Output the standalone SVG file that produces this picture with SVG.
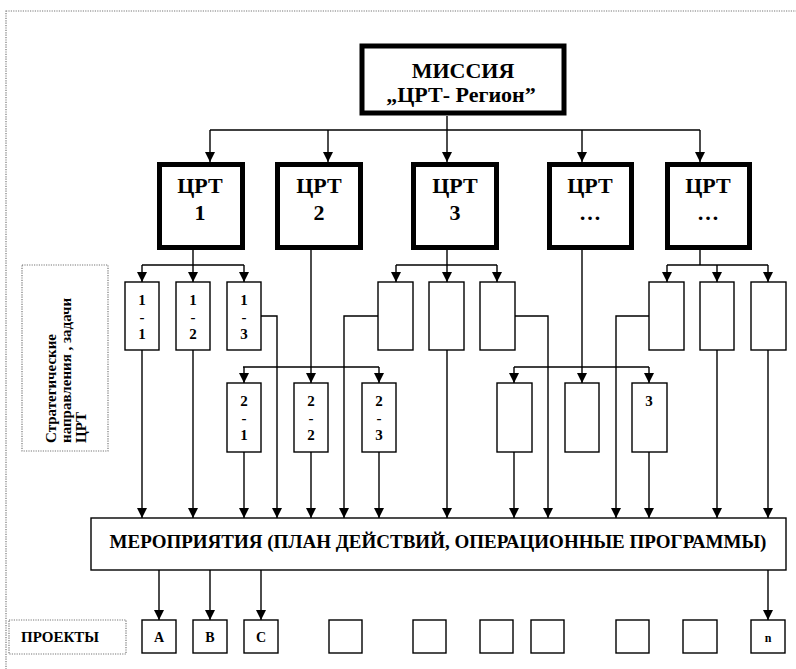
<svg xmlns="http://www.w3.org/2000/svg" width="796" height="669" viewBox="0 0 796 669">
<style>
.t{font-family:"Liberation Serif","Times New Roman","DejaVu Serif",serif;font-weight:bold;fill:#000;text-anchor:middle}
.thick{fill:#fff;stroke:#000;stroke-width:5}
.box{fill:#fff;stroke:#000;stroke-width:1.4}
.dot{fill:none;stroke:#777;stroke-width:1.2;stroke-dasharray:1.2 1.2}
.c{fill:none;stroke:#000;stroke-width:1.4}
.a{fill:none;stroke:#000;stroke-width:1.4;marker-end:url(#ah)}
</style>
<defs>
<marker id="ah" markerUnits="userSpaceOnUse" markerWidth="10" markerHeight="11" refX="10" refY="5" orient="auto" viewBox="0 0 10 10">
<path d="M0,0 L10,5 L0,10 z" fill="#000"/>
</marker>
</defs>
<rect width="796" height="669" fill="#fff"/>
<rect class="dot" x="6" y="11" width="810" height="700"/>

<g id="connectors">
<polyline class="c" points="447,116 447,130"/>
<polyline class="c" points="210,130 700,130"/>
<line class="a" x1="210" y1="130" x2="210" y2="162"/>
<line class="a" x1="328" y1="130" x2="328" y2="162"/>
<line class="a" x1="447" y1="130" x2="447" y2="162"/>
<line class="a" x1="582" y1="130" x2="582" y2="162"/>
<line class="a" x1="700" y1="130" x2="700" y2="162"/>

<polyline class="c" points="193,250 193,265"/>
<polyline class="c" points="142,265 244,265"/>
<line class="a" x1="142" y1="265" x2="142" y2="282"/>
<line class="a" x1="193" y1="265" x2="193" y2="282"/>
<line class="a" x1="244" y1="265" x2="244" y2="282"/>

<polyline class="c" points="311,250 311,367"/>
<polyline class="c" points="243,367 379,367"/>
<line class="a" x1="244" y1="367" x2="244" y2="383"/>
<line class="a" x1="311" y1="367" x2="311" y2="383"/>
<line class="a" x1="379" y1="367" x2="379" y2="383"/>

<polyline class="c" points="447,250 447,265"/>
<polyline class="c" points="396,265 497,265"/>
<line class="a" x1="396" y1="265" x2="396" y2="282"/>
<line class="a" x1="447" y1="265" x2="447" y2="282"/>
<line class="a" x1="497" y1="265" x2="497" y2="282"/>

<polyline class="c" points="582,250 582,367"/>
<polyline class="c" points="514,367 649,367"/>
<line class="a" x1="514" y1="367" x2="514" y2="383"/>
<line class="a" x1="582" y1="367" x2="582" y2="383"/>
<line class="a" x1="649" y1="367" x2="649" y2="383"/>

<polyline class="c" points="700,250 700,265"/>
<polyline class="c" points="667,265 768,265"/>
<line class="a" x1="667" y1="265" x2="667" y2="282"/>
<line class="a" x1="717" y1="265" x2="717" y2="282"/>
<line class="a" x1="768" y1="265" x2="768" y2="282"/>

<line class="a" x1="142" y1="350" x2="142" y2="518"/>
<line class="a" x1="193" y1="350" x2="193" y2="518"/>
<line class="a" x1="244" y1="452" x2="244" y2="518"/>
<polyline class="a" points="261,316 277,316 277,518"/>
<line class="a" x1="311" y1="452" x2="311" y2="518"/>
<polyline class="a" points="378,316 344,316 344,518"/>
<line class="a" x1="379" y1="452" x2="379" y2="518"/>
<line class="a" x1="447" y1="350" x2="447" y2="518"/>
<line class="a" x1="514" y1="452" x2="514" y2="518"/>
<polyline class="a" points="515,316 548,316 548,518"/>
<polyline class="a" points="649,316 616,316 616,518"/>
<line class="a" x1="649" y1="452" x2="649" y2="518"/>
<line class="a" x1="717" y1="350" x2="717" y2="518"/>
<line class="a" x1="768" y1="350" x2="768" y2="518"/>

<line class="a" x1="159" y1="570" x2="159" y2="620"/>
<line class="a" x1="210" y1="570" x2="210" y2="620"/>
<line class="a" x1="261" y1="570" x2="261" y2="620"/>
<line class="a" x1="768" y1="570" x2="768" y2="620"/>
</g>

<g id="mission">
<rect class="thick" x="362" y="46" width="202" height="67" stroke-width="6"/>
<text class="t" x="463" y="78" font-size="22">МИССИЯ</text>
<text class="t" x="461" y="102" font-size="22">„ЦРТ- Регион”</text>
</g>

<g id="crt1"><rect class="thick" x="159.5" y="164.5" width="83" height="83"/><text class="t" x="200" y="193" font-size="22">ЦРТ</text><text class="t" x="200" y="220" font-size="22">1</text></g>
<g id="crt2"><rect class="thick" x="277.5" y="164.5" width="83" height="83"/><text class="t" x="319" y="193" font-size="22">ЦРТ</text><text class="t" x="319" y="220" font-size="22">2</text></g>
<g id="crt3"><rect class="thick" x="413.5" y="164.5" width="83" height="83"/><text class="t" x="455" y="193" font-size="22">ЦРТ</text><text class="t" x="455" y="220" font-size="22">3</text></g>
<g id="crt4"><rect class="thick" x="549.5" y="164.5" width="82" height="83"/><text class="t" x="590" y="193" font-size="22">ЦРТ</text><text class="t" x="590" y="220" font-size="22">…</text></g>
<g id="crt5"><rect class="thick" x="667.5" y="164.5" width="82" height="83"/><text class="t" x="708" y="193" font-size="22">ЦРТ</text><text class="t" x="708" y="220" font-size="22">…</text></g>

<g id="label-strat">
<rect class="dot" x="22" y="265" width="86" height="186"/>
<text class="t" font-size="15" style="text-anchor:start" transform="translate(56,443) rotate(-90)">Стратегические</text>
<text class="t" font-size="15" style="text-anchor:start" transform="translate(71,443) rotate(-90)">направления , задачи</text>
<text class="t" font-size="15" style="text-anchor:start" transform="translate(86,443) rotate(-90)">ЦРТ</text>
</g>

<g id="d1-1"><rect class="box" x="125" y="282" width="34" height="68"/><text class="t" x="142" y="305" font-size="15">1</text><text class="t" x="142" y="322" font-size="15">-</text><text class="t" x="142" y="339" font-size="15">1</text></g>
<g id="d1-2"><rect class="box" x="176" y="282" width="34" height="68"/><text class="t" x="193" y="305" font-size="15">1</text><text class="t" x="193" y="322" font-size="15">-</text><text class="t" x="193" y="339" font-size="15">2</text></g>
<g id="d1-3"><rect class="box" x="227" y="282" width="34" height="68"/><text class="t" x="244" y="305" font-size="15">1</text><text class="t" x="244" y="322" font-size="15">-</text><text class="t" x="244" y="339" font-size="15">3</text></g>
<g id="d3-1"><rect class="box" x="378" y="282" width="35" height="68"/></g>
<g id="d3-2"><rect class="box" x="429" y="282" width="35" height="68"/></g>
<g id="d3-3"><rect class="box" x="480" y="282" width="35" height="68"/></g>
<g id="d5-1"><rect class="box" x="649" y="282" width="35" height="68"/></g>
<g id="d5-2"><rect class="box" x="700" y="282" width="34" height="68"/></g>
<g id="d5-3"><rect class="box" x="751" y="282" width="35" height="68"/></g>

<g id="d2-1"><rect class="box" x="227" y="383" width="34" height="69"/><text class="t" x="244" y="406" font-size="15">2</text><text class="t" x="244" y="423" font-size="15">-</text><text class="t" x="244" y="440" font-size="15">1</text></g>
<g id="d2-2"><rect class="box" x="294" y="383" width="34" height="69"/><text class="t" x="311" y="406" font-size="15">2</text><text class="t" x="311" y="423" font-size="15">-</text><text class="t" x="311" y="440" font-size="15">2</text></g>
<g id="d2-3"><rect class="box" x="362" y="383" width="34" height="69"/><text class="t" x="379" y="406" font-size="15">2</text><text class="t" x="379" y="423" font-size="15">-</text><text class="t" x="379" y="440" font-size="15">3</text></g>
<g id="d4-1"><rect class="box" x="497" y="383" width="35" height="69"/></g>
<g id="d4-2"><rect class="box" x="565" y="383" width="34" height="69"/></g>
<g id="d4-3"><rect class="box" x="632" y="383" width="35" height="69"/><text class="t" x="649" y="406" font-size="15">3</text></g>

<g id="activities">
<rect class="box" x="91" y="518" width="695" height="52"/>
<text class="t" x="438" y="548" font-size="19">МЕРОПРИЯТИЯ (ПЛАН ДЕЙСТВИЙ, ОПЕРАЦИОННЫЕ ПРОГРАММЫ)</text>
</g>

<g id="label-projects">
<rect class="dot" x="9" y="620" width="117" height="34"/>
<text class="t" x="60" y="642" font-size="15">ПРОЕКТЫ</text>
</g>

<g id="pA"><rect class="box" x="142" y="620" width="34" height="33"/><text class="t" x="159" y="642" font-size="14">A</text></g>
<g id="pB"><rect class="box" x="193" y="620" width="34" height="33"/><text class="t" x="210" y="642" font-size="14">B</text></g>
<g id="pC"><rect class="box" x="244" y="620" width="34" height="33"/><text class="t" x="261" y="642" font-size="14">C</text></g>
<g id="p4"><rect class="box" x="329" y="620" width="33" height="33"/></g>
<g id="p5"><rect class="box" x="413" y="620" width="33" height="33"/></g>
<g id="p6"><rect class="box" x="480" y="620" width="33" height="33"/></g>
<g id="p7"><rect class="box" x="531" y="620" width="33" height="33"/></g>
<g id="p8"><rect class="box" x="616" y="620" width="33" height="33"/></g>
<g id="p9"><rect class="box" x="683" y="620" width="34" height="33"/></g>
<g id="pn"><rect class="box" x="751" y="620" width="34" height="33"/><text class="t" x="768" y="642" font-size="12">n</text></g>
</svg>
